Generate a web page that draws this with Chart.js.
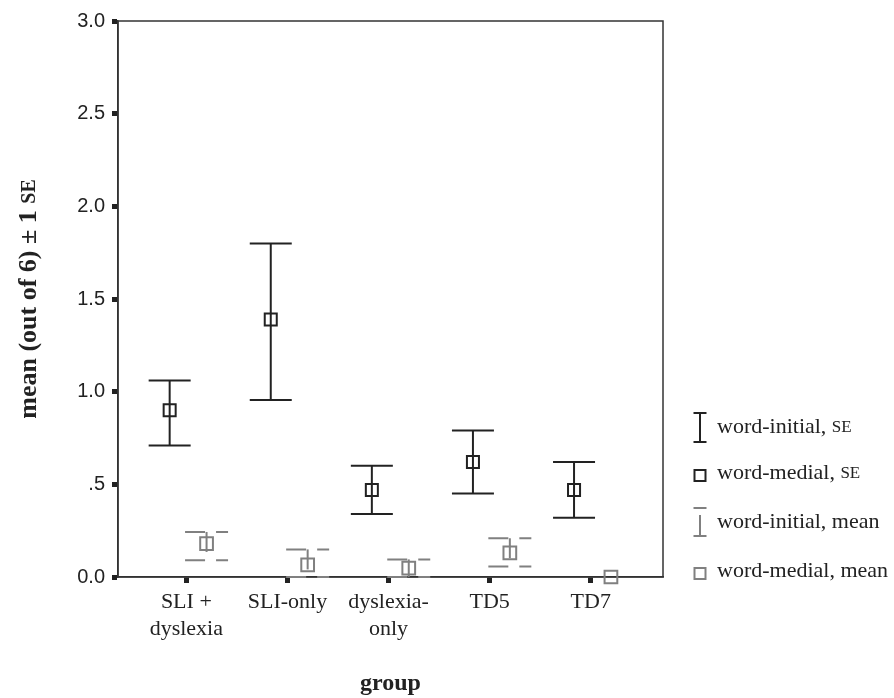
<!DOCTYPE html>
<html>
<head>
<meta charset="utf-8">
<script src="https://cdn.jsdelivr.net/npm/chart.js@4.4.1/dist/chart.umd.min.js"></script>
<style>
  html, body { margin: 0; padding: 0; background: #fff; }
</style>
</head>
<body>
<canvas id="chart" width="894" height="698"></canvas>
<script>
// groups on the x axis
const groups = [["SLI +", "dyslexia"], "SLI-only", ["dyslexia-", "only"], "TD5", "TD7"];

// word-medial, SE (black)
const seMean = [0.90, 1.39, 0.47, 0.62, 0.47];
const seLow  = [0.71, 0.955, 0.34, 0.45, 0.32];
const seHigh = [1.06, 1.80, 0.60, 0.79, 0.62];

// word-medial, mean (grey)
const mnMean = [0.18, 0.065, 0.048, 0.13, 0.0];
const mnLow  = [0.09, 0.0, 0.0, 0.056, null];
const mnHigh = [0.243, 0.149, 0.095, 0.209, null];

const yTicks = [0, 0.5, 1, 1.5, 2, 2.5, 3];

const BLACK = "#222";
const GREY = "#808080";
const SERIF = "'Liberation Serif', 'Times New Roman', serif";
const SANS = "'Liberation Sans', Arial, sans-serif";

// error bars, frame, titles and legend
const errorBars = {
  id: "errorBars",
  beforeDatasetsDraw(chart) {
    const { ctx, chartArea: a, scales: { y } } = chart;
    ctx.save();
    ctx.strokeStyle = "#333";
    ctx.lineWidth = 1.5;
    ctx.strokeRect(a.left, a.top, a.right - a.left, a.bottom - a.top);
    ctx.restore();

    chart.data.datasets.forEach((ds, di) => {
      const meta = chart.getDatasetMeta(di);
      meta.data.forEach((pt, i) => {
        const lo = ds.errLow[i], hi = ds.errHigh[i];
        if (lo == null || hi == null) return;
        const yl = y.getPixelForValue(lo), yh = y.getPixelForValue(hi);
        const w = ds.capWidth;
        ctx.save();
        ctx.strokeStyle = ds.borderColor;
        ctx.lineWidth = 2;
        ctx.setLineDash(ds.errDash);
        ctx.beginPath(); ctx.moveTo(pt.x - w / 2, yh); ctx.lineTo(pt.x + w / 2, yh); ctx.stroke();
        ctx.beginPath(); ctx.moveTo(pt.x - w / 2, yl); ctx.lineTo(pt.x + w / 2, yl); ctx.stroke();
        ctx.beginPath(); ctx.moveTo(pt.x, yh); ctx.lineTo(pt.x, yl); ctx.stroke();
        ctx.restore();
      });
    });
  },
  afterDraw(chart) {
    const { ctx, chartArea: a } = chart;
    ctx.save();
    ctx.fillStyle = BLACK;

    // y title
    ctx.save();
    ctx.translate(29, (a.top + a.bottom) / 2);
    ctx.rotate(-Math.PI / 2);
    ctx.textBaseline = "middle";
    const big = "bold 26px " + SERIF, small = "bold 20px " + SERIF;
    ctx.font = big;
    const t1 = "mean (out of 6) \u00b1 1 ";
    const w1 = ctx.measureText(t1).width;
    ctx.font = small;
    const w2 = ctx.measureText("SE").width;
    let x0 = -(w1 + w2) / 2;
    ctx.font = big; ctx.textAlign = "left";
    ctx.fillText(t1, x0, 0);
    ctx.font = small;
    ctx.fillText("SE", x0 + w1, 1);
    ctx.restore();

    // x title
    ctx.font = "bold 24px " + SERIF;
    ctx.textAlign = "center";
    ctx.textBaseline = "middle";
    ctx.fillText("group", (a.left + a.right) / 2, 684);

    // legend
    const lx = 700, tx = 717;
    const items = [
      { kind: "bar", color: BLACK, y: 427, text: "word-initial, ", sc: "SE" },
      { kind: "box", color: BLACK, y: 473, text: "word-medial, ", sc: "SE" },
      { kind: "bar2", color: GREY, y: 522, text: "word-initial, mean", sc: "" },
      { kind: "box", color: GREY, y: 571, text: "word-medial, mean", sc: "" }
    ];
    items.forEach(it => {
      ctx.strokeStyle = it.color;
      ctx.lineWidth = 2;
      if (it.kind === "bar") {
        ctx.beginPath();
        ctx.moveTo(lx - 6.5, it.y - 14); ctx.lineTo(lx + 6.5, it.y - 14);
        ctx.moveTo(lx, it.y - 14); ctx.lineTo(lx, it.y + 15);
        ctx.moveTo(lx - 6.5, it.y + 15); ctx.lineTo(lx + 6.5, it.y + 15);
        ctx.stroke();
      } else if (it.kind === "bar2") {
        ctx.beginPath();
        ctx.moveTo(lx - 6.5, it.y - 14); ctx.lineTo(lx + 6.5, it.y - 14);
        ctx.moveTo(lx, it.y - 7); ctx.lineTo(lx, it.y + 14);
        ctx.moveTo(lx - 6.5, it.y + 14); ctx.lineTo(lx + 6.5, it.y + 14);
        ctx.stroke();
      } else {
        ctx.strokeRect(lx - 5.5, it.y - 3, 11, 11);
      }
      ctx.fillStyle = BLACK;
      ctx.textAlign = "left";
      ctx.textBaseline = "middle";
      ctx.font = "22px " + SERIF;
      ctx.fillText(it.text, tx, it.y);
      if (it.sc) {
        const w = ctx.measureText(it.text).width;
        ctx.font = "17px " + SERIF;
        ctx.fillText(it.sc, tx + w, it.y + 1);
      }
    });
    ctx.restore();
  }
};

const blackPts = seMean.map((v, i) => ({ x: i + 1 - 0.165, y: v }));
const greyPts = mnMean.map((v, i) => ({ x: i + 1 + 0.2, y: v }));

new Chart(document.getElementById("chart"), {
  type: "scatter",
  data: {
    datasets: [
      {
        label: "word-medial, SE",
        data: blackPts,
        errLow: seLow,
        errHigh: seHigh,
        errDash: [],
        capWidth: 42,
        pointStyle: "rect",
        pointRadius: 8.5,
        pointHoverRadius: 8.5,
        borderWidth: 2,
        borderColor: BLACK,
        backgroundColor: "rgba(0,0,0,0)",
        clip: false
      },
      {
        label: "word-medial, mean",
        data: greyPts,
        errLow: mnLow,
        errHigh: mnHigh,
        errDash: [20, 11],
        capWidth: 43,
        pointStyle: "rect",
        pointRadius: 9,
        pointHoverRadius: 9,
        borderWidth: 2,
        borderColor: GREY,
        backgroundColor: "rgba(0,0,0,0)",
        clip: false
      }
    ]
  },
  options: {
    responsive: false,
    animation: false,
    events: [],
    layout: { padding: { top: 21, right: 231, left: 0, bottom: 0 } },
    plugins: {
      legend: { display: false },
      tooltip: { enabled: false }
    },
    scales: {
      x: {
        type: "linear",
        min: 0.324,
        max: 5.715,
        afterBuildTicks: (axis) => { axis.ticks = groups.map((g, i) => ({ value: i + 1 })); },
        afterFit: (axis) => { axis.height = 121; },
        ticks: {
          autoSkip: false,
          maxRotation: 0,
          padding: 5,
          color: BLACK,
          font: { family: SERIF, size: 22, lineHeight: 1.25 },
          callback: (v) => groups[Math.round(v) - 1]
        },
        grid: { drawOnChartArea: false, tickLength: 6, tickWidth: 5, color: BLACK },
        border: { display: true, color: "#333", width: 1.5 }
      },
      y: {
        min: 0,
        max: 3,
        afterBuildTicks: (axis) => { axis.ticks = yTicks.map(v => ({ value: v })); },
        afterFit: (axis) => { axis.width = 118; },
        ticks: {
          padding: 7,
          color: BLACK,
          font: { family: SANS, size: 20 },
          callback: (v) => (v === 0.5 ? ".5" : v.toFixed(1))
        },
        grid: { drawOnChartArea: false, tickLength: 6, tickWidth: 5, color: BLACK },
        border: { display: true, color: "#333", width: 1.5 }
      }
    }
  },
  plugins: [errorBars]
});
</script>
</body>
</html>
